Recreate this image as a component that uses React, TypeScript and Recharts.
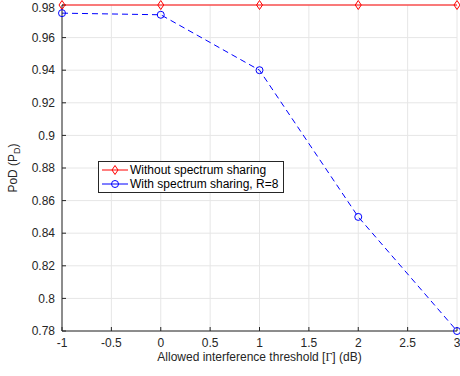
import React from 'react';
import { LineChart, Line, XAxis, YAxis, CartesianGrid } from 'recharts';

const xValues = [-1, 0, 1, 2, 3];
const withoutSharing = [0.98, 0.98, 0.98, 0.98, 0.98];
const withSharing = [0.975, 0.974, 0.94, 0.85, 0.78];
const xTicks = [-1, -0.5, 0, 0.5, 1, 1.5, 2, 2.5, 3];
const yTicks = [0.78, 0.8, 0.82, 0.84, 0.86, 0.88, 0.9, 0.92, 0.94, 0.96, 0.98];
const seriesNames = ['Without spectrum sharing', 'With spectrum sharing, R=8'];

const data = xValues.map((x, i) => ({ x, a: withoutSharing[i], b: withSharing[i] }));

const FONT = '"Liberation Sans", Arial, Helvetica, sans-serif';
const TXT = '#262626';
const AX = '#262626';
const FS = 12;

const Diamond = (props: any) => {
  const { cx, cy } = props;
  if (cx == null || cy == null) return null;
  return <path d={`M${cx},${cy - 4.5}L${cx + 3},${cy}L${cx},${cy + 4.5}L${cx - 3},${cy}Z`} fill="none" stroke="#ff0000" strokeWidth={1} />;
};

const Circle = (props: any) => {
  const { cx, cy } = props;
  if (cx == null || cy == null) return null;
  return <circle cx={cx} cy={cy} r={3.5} fill="none" stroke="#0000ff" strokeWidth={1} />;
};

const LegendBox = () => (
  <div style={{ position: 'absolute', left: 98, top: 161, border: '1px solid #262626', background: '#fff', padding: '1px 5px 1px 2px', fontFamily: FONT, fontSize: FS, color: '#000', lineHeight: '14px' }}>
    <div style={{ display: 'flex', alignItems: 'center' }}>
      <svg width={28} height={14}><line x1={1} y1={7} x2={27} y2={7} stroke="#ff0000" /><path d="M14,2.5L17,7L14,11.5L11,7Z" fill="none" stroke="#ff0000" /></svg>
      <span style={{ marginLeft: 1 }}>{seriesNames[0]}</span>
    </div>
    <div style={{ display: 'flex', alignItems: 'center' }}>
      <svg width={28} height={14}><line x1={1} y1={7} x2={27} y2={7} stroke="#0000ff" /><circle cx={14} cy={7} r={3.5} fill="none" stroke="#0000ff" /></svg>
      <span style={{ marginLeft: 1 }}>{seriesNames[1]}</span>
    </div>
  </div>
);

export default function App() {
  return (
    <div style={{ position: 'absolute', left: 0, top: 0, width: 460, height: 376, background: '#fff' }}>
      <LineChart width={460} height={376} data={data} margin={{ top: 5, right: 3, left: 0, bottom: 0 }}>
        <CartesianGrid stroke="#e6e6e6" strokeWidth={1} verticalValues={xTicks} horizontalValues={yTicks} />
        <XAxis dataKey="x" type="number" domain={[-1, 3]} ticks={xTicks} height={45}
          stroke={AX} tickSize={-4} tickMargin={11}
          tick={{ fill: TXT, fontSize: FS, fontFamily: FONT }}
          tickFormatter={(v: number) => String(v)}
          label={({ viewBox }: any) => (
            <text x={viewBox.x + viewBox.width / 2} y={viewBox.y + 30} textAnchor="middle" fontSize={FS} fontFamily={FONT} fill={TXT}>
              Allowed interference threshold [<tspan fontFamily='"Liberation Serif", "Times New Roman", serif'>Γ</tspan>] (dB)
            </text>
          )} />
        <XAxis xAxisId="t" orientation="top" dataKey="x" type="number" domain={[-1, 3]} ticks={xTicks} height={0}
          stroke={AX} tickSize={-4} tick={false} />
        <YAxis type="number" domain={[0.78, 0.98]} ticks={yTicks} width={62}
          stroke={AX} tickSize={-4} tickMargin={11}
          tick={{ fill: TXT, fontSize: FS, fontFamily: FONT }}
          tickFormatter={(v: number) => String(Number(v.toFixed(2)))}
          label={({ viewBox }: any) => (
            <text transform={`translate(17, ${viewBox.y + viewBox.height / 2}) rotate(-90)`} textAnchor="middle" fontSize={FS} fontFamily={FONT} fill={TXT}>
              PoD (P<tspan fontSize={9} dy={3}>D</tspan><tspan dy={-3}>)</tspan>
            </text>
          )} />
        <YAxis yAxisId="r" orientation="right" type="number" domain={[0.78, 0.98]} ticks={yTicks} width={0}
          stroke={AX} tickSize={-4} tick={false} />
        <Line type="linear" dataKey="a" name={seriesNames[0]} stroke="#ff0000" strokeWidth={1} dot={<Diamond />} isAnimationActive={false} />
        <Line type="linear" dataKey="b" name={seriesNames[1]} stroke="#0000ff" strokeWidth={1} strokeDasharray="6 4" dot={<Circle />} isAnimationActive={false} />
      </LineChart>
      <LegendBox />
    </div>
  );
}
